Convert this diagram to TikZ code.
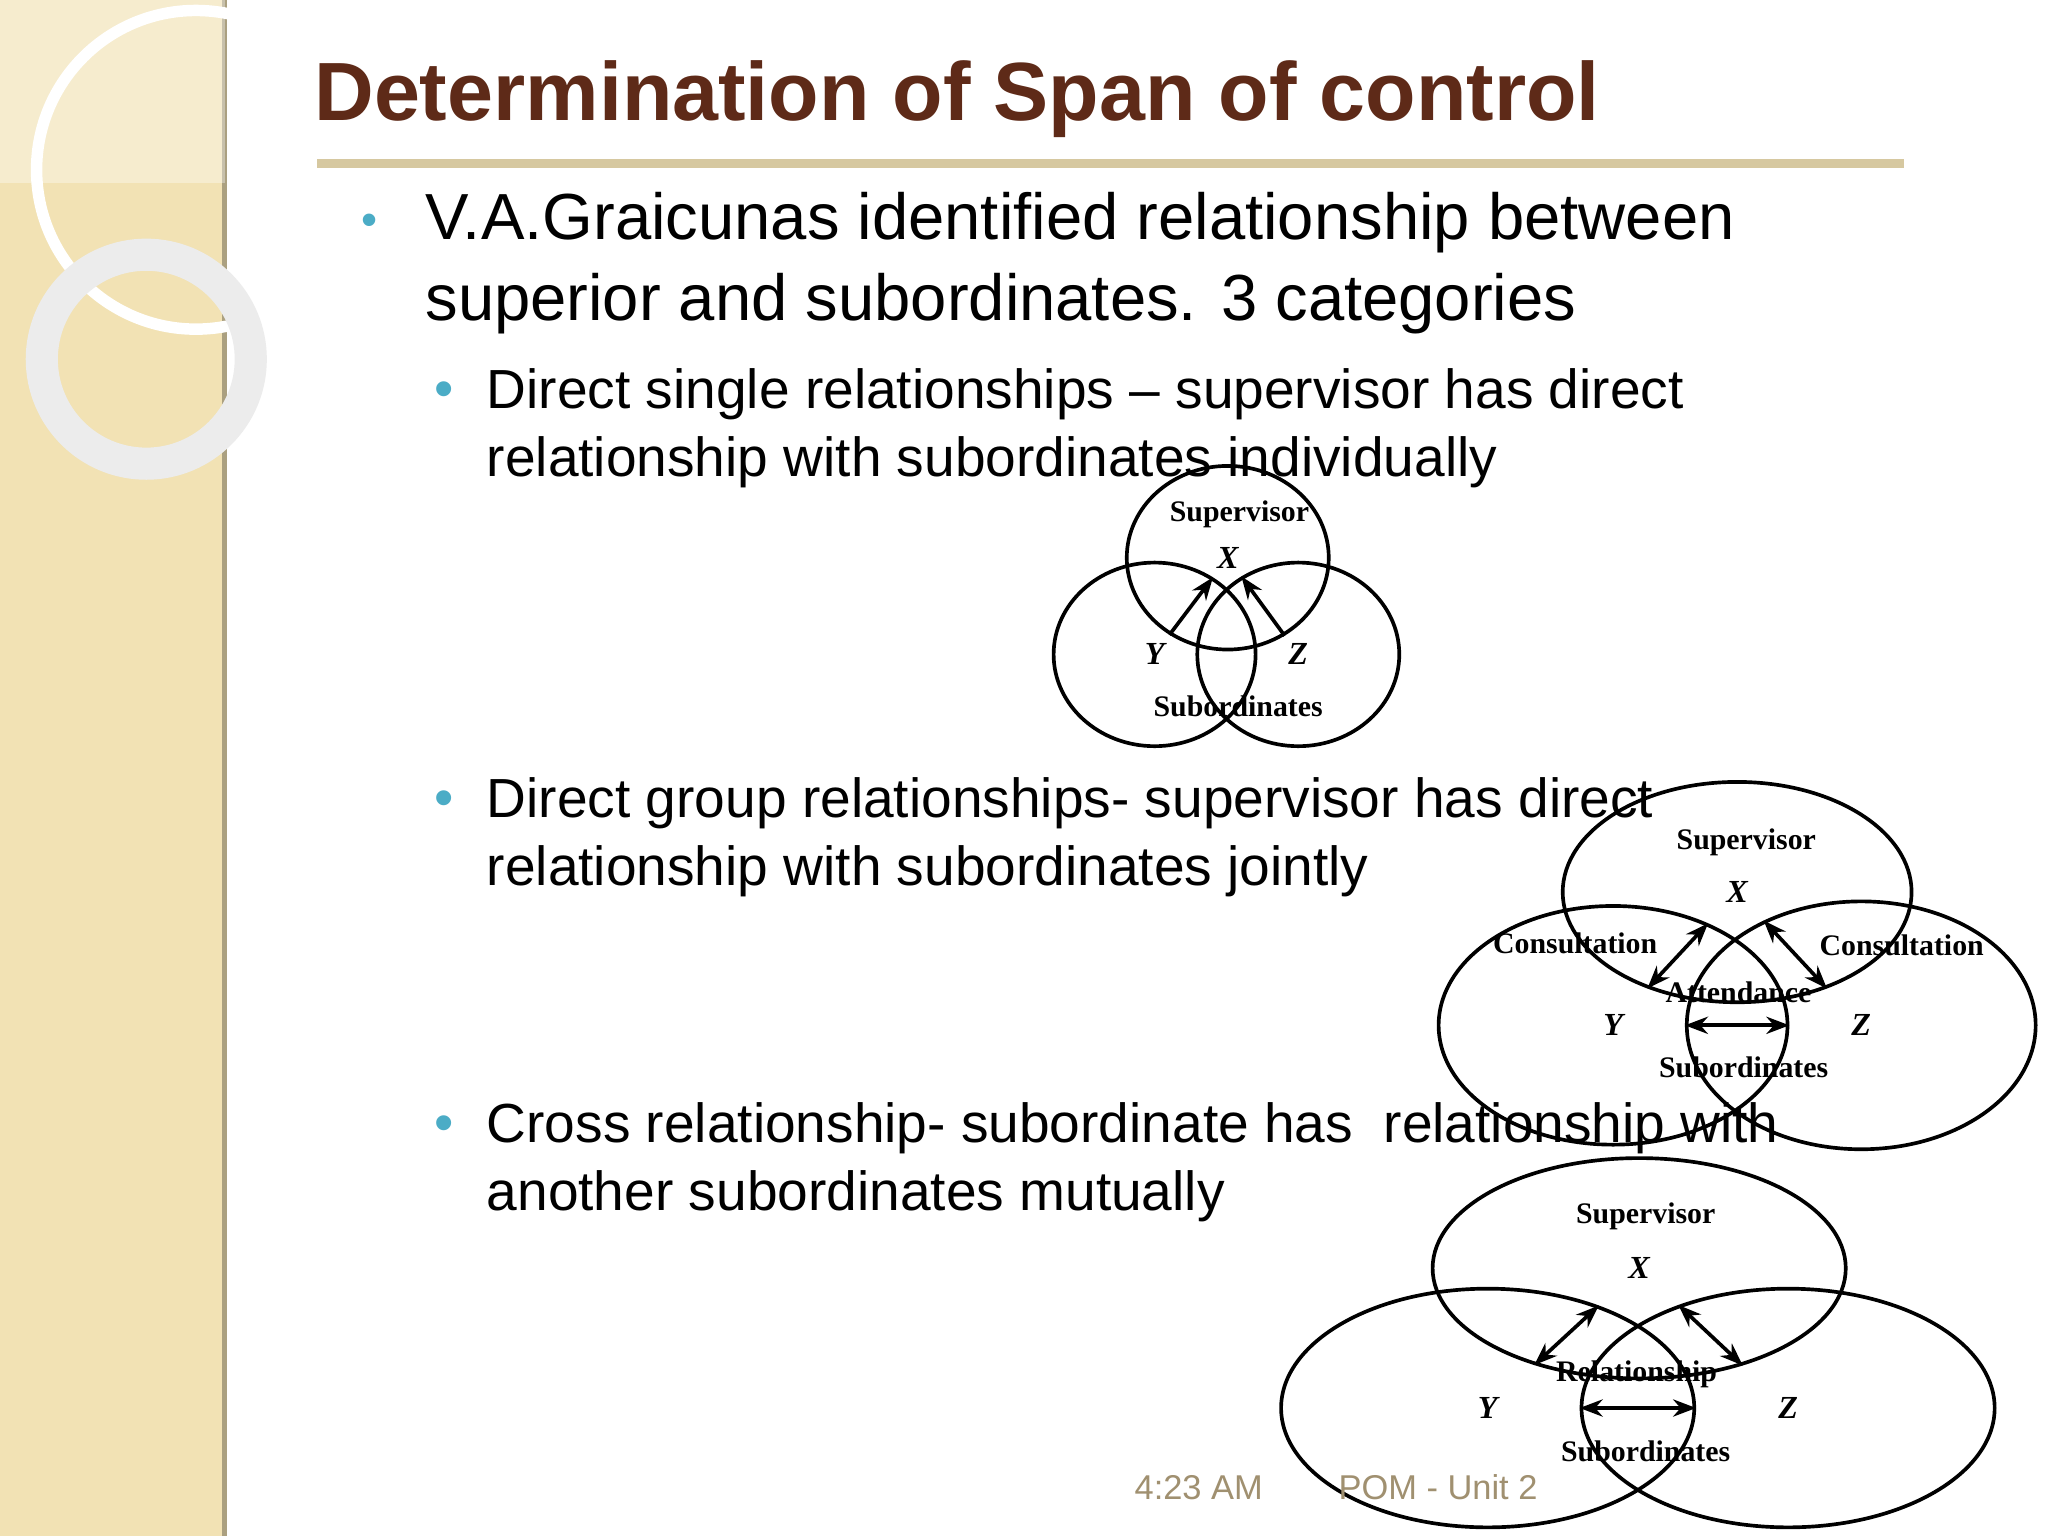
\documentclass[tikz,border=0pt]{standalone}
\usepackage{fontspec}
\setmainfont{Liberation Sans}
\newfontfamily\serifb{Liberation Serif}
\usetikzlibrary{shapes.geometric,arrows.meta}
\definecolor{beige}{HTML}{F2E2B4}
\definecolor{titlec}{HTML}{5E2A18}
\definecolor{rulec}{HTML}{D6C8A0}
\definecolor{bulc}{HTML}{4BACC6}
\definecolor{footc}{HTML}{A09070}
\tikzset{
 x=0.1mm,y=-0.1mm,
 lab/.style={font=\serifb\bfseries\fontsize{6.5}{7}\selectfont,inner sep=0pt},
 nd/.style={draw,thick,ellipse,inner sep=0pt,font=\serifb\bfseries\itshape\fontsize{7}{8}\selectfont},
 con/.style={thick,-{Stealth[length=5pt]}},
 dcon/.style={thick,{Stealth[length=5pt]}-{Stealth[length=5pt]}},
 main/.style={anchor=base west,inner sep=0pt,font=\fontsize{14.2}{17}\selectfont},
 sub/.style={anchor=base west,inner sep=0pt,font=\fontsize{12}{15}\selectfont},
 bul/.style={anchor=base,inner sep=0pt,text=bulc},
}
\begin{document}
\begin{tikzpicture}
\useasboundingbox (0,0) rectangle (1568,1176);
\fill[white] (0,0) rectangle (1568,1176);
\fill[beige] (0,0) rectangle (172,1176);
\draw[rulec!80!black,line width=1pt] (172,0) -- (172,1176);
\fill[white,opacity=0.35] (0,0) rectangle (172,140);
\draw[white,line width=2.5pt] (150,130) circle (122);
\draw[white!85!gray,line width=7pt] (112,275) circle (80);
\node[anchor=base west,inner sep=0pt,text=titlec,font=\bfseries\fontsize{18}{20}\selectfont] (title) at (240,92) {Determination of Span of control};
\draw[rulec,line width=2pt] (243,125) -- (1458,125);
\node[bul,font=\fontsize{10}{12}\selectfont] (b1) at (283,180) {•};
\node[main] (t1) at (325,183) {V.A.Graicunas identified relationship between};
\node[main] (t2) at (325,245) {superior and subordinates. 3 categories};
\node[bul,font=\fontsize{12}{14}\selectfont] (b2) at (340,312) {•};
\node[sub] (s1a) at (372,313) {Direct single relationships – supervisor has direct};
\node[sub] (s1b) at (372,365) {relationship with subordinates individually};
\node[bul,font=\fontsize{12}{14}\selectfont] (b3) at (340,625) {•};
\node[sub] (s2a) at (372,626) {Direct group relationships- supervisor has direct};
\node[sub] (s2b) at (372,678) {relationship with subordinates jointly};
\node[bul,font=\fontsize{12}{14}\selectfont] (b4) at (340,874) {•};
\node[sub] (s3a) at (372,875) {Cross relationship- subordinate has\ \ relationship with};
\node[sub] (s3b) at (372,927) {another subordinates mutually};
% diagram 1
\node[lab] (sup1) at (949,394) {Supervisor};
\node[nd,minimum width=44,minimum height=40] (x1) at (940,427) {X};
\node[nd,minimum width=44,minimum height=40] (y1) at (884,501) {Y};
\node[nd,minimum width=44,minimum height=40] (z1) at (994,501) {Z};
\node[lab] (sb1) at (948,541) {Subordinates};
\draw[con] (x1) -- (y1);
\draw[con] (x1) -- (z1);
% diagram 2
\node[lab] (sup2) at (1337,645) {Supervisor};
\node[nd,minimum width=76,minimum height=48] (x2) at (1330,683) {X};
\node[nd,minimum width=76,minimum height=52] (y2) at (1235,785) {Y};
\node[nd,minimum width=76,minimum height=54] (z2) at (1425,785) {Z};
\node[lab] (c2l) at (1206,722) {Consultation};
\node[lab] (c2r) at (1456,724) {Consultation};
\node[lab] (a2) at (1331,760) {Attendance};
\node[lab] (sb2) at (1335,817) {Subordinates};
\draw[dcon] (x2) -- (y2);
\draw[dcon] (x2) -- (z2);
\draw[dcon] (y2) -- (z2);
% diagram 3
\node[lab] (sup3) at (1260,931) {Supervisor};
\node[nd,minimum width=90,minimum height=48] (x3) at (1255,971) {X};
\node[nd,minimum width=90,minimum height=52] (y3) at (1139,1078) {Y};
\node[nd,minimum width=90,minimum height=52] (z3) at (1369,1078) {Z};
\node[lab] (r3) at (1253,1052) {Relationship};
\node[lab] (sb3) at (1260,1111) {Subordinates};
\draw[dcon] (x3) -- (y3);
\draw[dcon] (x3) -- (z3);
\draw[dcon] (y3) -- (z3);
\node[anchor=base west,inner sep=0pt,text=footc,font=\fontsize{7.5}{9}\selectfont] (foot) at (868,1148) {4:23 AM\hspace{2.2em}POM - Unit 2};
\end{tikzpicture}
\end{document}
